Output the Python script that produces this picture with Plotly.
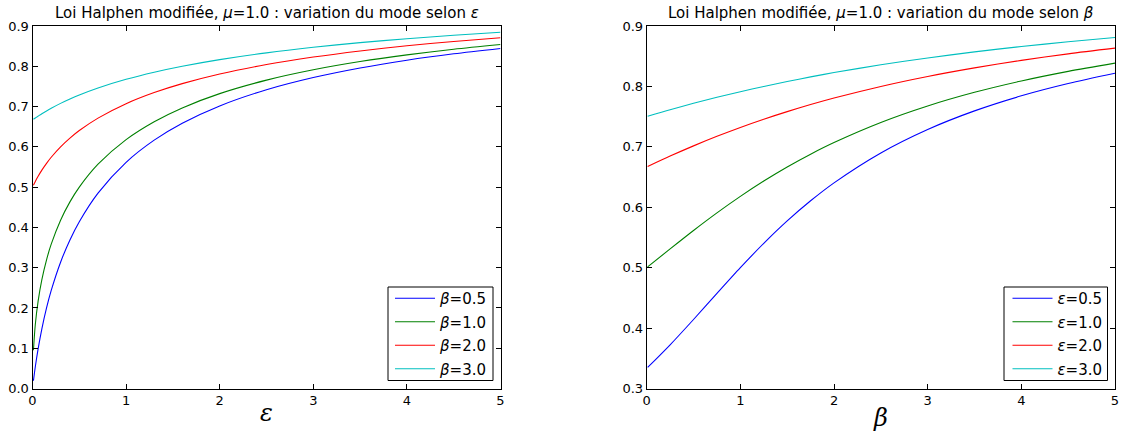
import plotly.graph_objects as go

# ---- data ----
eps_values = [0.01, 0.03, 0.06, 0.1, 0.15, 0.2, 0.3, 0.4, 0.5, 0.7, 1.0, 1.3, 1.6,
              2.0, 2.5, 3.0, 3.5, 4.0, 4.5, 5.0]
mode_beta_05 = [0.0192, 0.0539, 0.0985, 0.1483, 0.2000, 0.2434, 0.3136, 0.3689, 0.4142,
                0.4852, 0.5616, 0.6166, 0.6586, 0.7016, 0.7417, 0.7720, 0.7958, 0.8151,
                0.8310, 0.8443]
mode_beta_10 = [0.0951, 0.1589, 0.2168, 0.2702, 0.3195, 0.3583, 0.4179, 0.4633, 0.5000,
                0.5569, 0.6180, 0.6624, 0.6967, 0.7321, 0.7656, 0.7913, 0.8117, 0.8284,
                0.8423, 0.8541]
mode_beta_20 = [0.5049, 0.5142, 0.5269, 0.5422, 0.5591, 0.5742, 0.6000, 0.6217, 0.6404,
                0.6713, 0.7071, 0.7347, 0.7569, 0.7808, 0.8043, 0.8229, 0.8381, 0.8508,
                0.8616, 0.8708]
mode_beta_30 = [0.6683, 0.6716, 0.6762, 0.6822, 0.6892, 0.6958, 0.7079, 0.7188, 0.7287,
                0.7461, 0.7676, 0.7852, 0.8000, 0.8165, 0.8333, 0.8471, 0.8587, 0.8685,
                0.8770, 0.8844]

beta_values = [0.01, 0.25, 0.5, 0.75, 1.0, 1.25, 1.5, 1.75, 2.0, 2.5, 3.0, 3.5, 4.0, 4.5, 5.0]
mode_eps_05 = [0.3348, 0.3723, 0.4142, 0.4574, 0.5000, 0.5403, 0.5774, 0.6107, 0.6404,
               0.6899, 0.7287, 0.7595, 0.7844, 0.8047, 0.8217]
mode_eps_10 = [0.5013, 0.5311, 0.5616, 0.5907, 0.6180, 0.6434, 0.6667, 0.6879, 0.7071,
               0.7403, 0.7676, 0.7902, 0.8090, 0.8249, 0.8385]
mode_eps_20 = [0.6674, 0.6847, 0.7016, 0.7174, 0.7321, 0.7457, 0.7583, 0.7700, 0.7808,
               0.8000, 0.8165, 0.8307, 0.8431, 0.8539, 0.8633]
mode_eps_30 = [0.7505, 0.7614, 0.7720, 0.7820, 0.7913, 0.8000, 0.8081, 0.8158, 0.8229,
               0.8358, 0.8471, 0.8571, 0.8660, 0.8739, 0.8810]

left_labels = ["0.5", "1.0", "2.0", "3.0"]
right_labels = ["0.5", "1.0", "2.0", "3.0"]
colors = ["#0000ff", "#008000", "#ff0000", "#00bfbf"]

W, H = 1122, 436
fig = go.Figure()

left_series = [mode_beta_05, mode_beta_10, mode_beta_20, mode_beta_30]
for i, (ys, lab, col) in enumerate(zip(left_series, left_labels, colors)):
    fig.add_trace(go.Scatter(x=eps_values, y=ys, mode="lines",
                             line=dict(color=col, width=1.1, shape="spline", smoothing=0.8),
                             name="<i>β</i>=" + lab, xaxis="x", yaxis="y",
                             legend="legend", legendgroup="L%d" % i))

right_series = [mode_eps_05, mode_eps_10, mode_eps_20, mode_eps_30]
for i, (ys, lab, col) in enumerate(zip(right_series, right_labels, colors)):
    fig.add_trace(go.Scatter(x=beta_values, y=ys, mode="lines",
                             line=dict(color=col, width=1.1, shape="spline", smoothing=0.8),
                             name="<i>ε</i>=" + lab, xaxis="x2", yaxis="y2",
                             legend="legend2", legendgroup="R%d" % i))

def px_x(p):
    return p / W

def px_y(p):
    return 1 - p / H

ydom = [px_y(388.5), px_y(26)]
axis_common = dict(showline=True, linecolor="black", linewidth=1, mirror="ticks",
                   ticks="inside", ticklen=5, tickwidth=1, tickcolor="black",
                   showgrid=False, zeroline=False, automargin=False,
                   tickfont=dict(family="DejaVu Sans", size=13, color="black"))

legend_common = dict(xanchor="right", yanchor="top",
                     borderwidth=0, bgcolor="rgba(0,0,0,0)",
                     font=dict(family="DejaVu Sans", size=15, color="black"),
                     itemwidth=40, tracegroupgap=1)

fig.update_layout(
    width=W, height=H,
    margin=dict(l=0, r=0, t=0, b=0, autoexpand=False),
    paper_bgcolor="white", plot_bgcolor="white",
    xaxis=dict(domain=[px_x(32.5), px_x(500.5)], range=[0, 5], dtick=1,
               anchor="y", **axis_common),
    yaxis=dict(domain=ydom, range=[0, 0.9], dtick=0.1, tickformat=".1f",
               anchor="x", **axis_common),
    xaxis2=dict(domain=[px_x(646.7), px_x(1115)], range=[0, 5], dtick=1,
                anchor="y2", **axis_common),
    yaxis2=dict(domain=ydom, range=[0.3, 0.9], dtick=0.1, tickformat=".1f",
                anchor="x2", **axis_common),
    legend=dict(x=px_x(493), y=px_y(282), **legend_common),
    legend2=dict(x=px_x(1107.5), y=px_y(282), **legend_common),
    showlegend=True,
)

# legend frames (matplotlib-style boxes)
for x0, x1 in [(388, 493), (1004, 1107.5)]:
    fig.add_shape(type="rect", xref="paper", yref="paper",
                  x0=px_x(x0), x1=px_x(x1), y0=px_y(380.5), y1=px_y(287),
                  line=dict(color="black", width=1), fillcolor="white", layer="above")

title_font = dict(family="DejaVu Sans", size=15, color="black")
fig.add_annotation(x=px_x(266.5), y=px_y(13), xref="paper", yref="paper",
                   text="Loi Halphen modifiée, <i>μ</i>=1.0 : variation du mode selon <i>ε</i>",
                   showarrow=False, font=title_font, xanchor="center", yanchor="middle")
fig.add_annotation(x=px_x(880.8), y=px_y(13), xref="paper", yref="paper",
                   text="Loi Halphen modifiée, <i>μ</i>=1.0 : variation du mode selon <i>β</i>",
                   showarrow=False, font=title_font, xanchor="center", yanchor="middle")

label_font = dict(family="DejaVu Serif", size=24, color="black")
fig.add_annotation(x=px_x(266.5), y=px_y(413), xref="paper", yref="paper",
                   text="<i>ε</i>", showarrow=False, font=label_font,
                   xanchor="center", yanchor="middle")
fig.add_annotation(x=px_x(880.8), y=px_y(418), xref="paper", yref="paper",
                   text="<i>β</i>", showarrow=False, font=label_font,
                   xanchor="center", yanchor="middle")

fig.write_html("out.html")
